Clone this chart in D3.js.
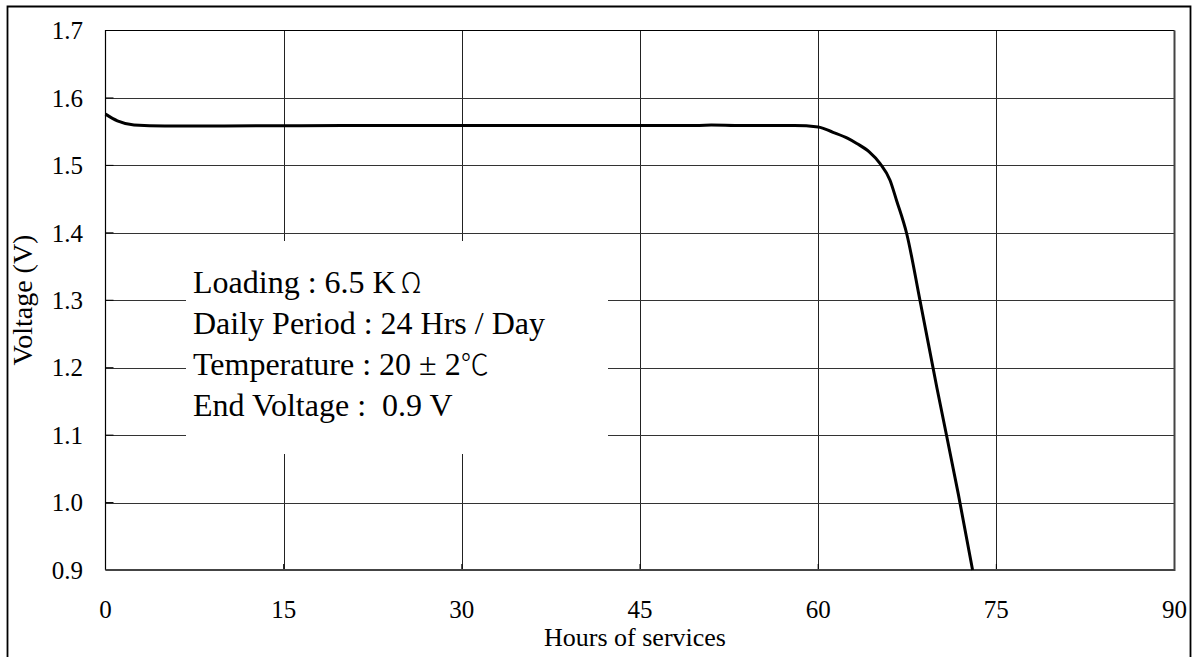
<!DOCTYPE html>
<html>
<head>
<meta charset="utf-8">
<script src="https://cdn.jsdelivr.net/npm/d3@7"></script>
<style>
  body { margin: 0; background: #fff; }
  svg { display: block; font-family: "Liberation Serif", "Times New Roman", serif; }
  .note { white-space: pre; }
  .cjk { font-family: "Noto Sans CJK JP", "Noto Sans CJK SC", serif; font-weight: 300; }
</style>
</head>
<body>
<svg id="chart" width="1192" height="657"></svg>
<script>
// discharge curve
var hours = [0, 1, 2.4, 5, 10, 20, 30, 40, 45, 50, 51, 53, 55, 58, 60, 61.25, 62.5, 63.25, 64.3, 65.2, 66.05, 66.6, 67.45, 68.57, 70, 71.8, 73];
var volts = [1.576, 1.566, 1.560, 1.5585, 1.5585, 1.559, 1.559, 1.559, 1.559, 1.5593, 1.5598, 1.5592, 1.559, 1.5592, 1.557, 1.549, 1.540, 1.5325, 1.520, 1.503, 1.478, 1.448, 1.399, 1.30, 1.17, 1.0125, 0.9];
var xTicks = [0, 15, 30, 45, 60, 75, 90];
var yTicks = [0.9, 1.0, 1.1, 1.2, 1.3, 1.4, 1.5, 1.6, 1.7];
// each note line: [plain text, cjk symbol]
var notes = [
    ['Loading : 6.5 K', '\u03A9'],
    ['Daily Period : 24 Hrs / Day', ''],
    ['Temperature : 20 \u00B1 2', '\u2103'],
    ['End Voltage :  0.9 V', '']
];

var LEFT = 105.5, RIGHT = 1174.5, TOP = 30.5, BOTTOM = 570;

var svg = d3.select('#chart');
var x = d3.scaleLinear().domain([0, 90]).range([LEFT, RIGHT]);
var y = d3.scaleLinear().domain([0.9, 1.7]).range([BOTTOM, TOP]);

// outer frame (bottom runs off the page)
svg.append('path')
    .attr('d', 'M7.5,700V6.5H1190.5V700')
    .attr('fill', 'none').attr('stroke', '#000').attr('stroke-width', 1.8);

// grid
svg.append('g').selectAll('line').data(xTicks.slice(1, -1)).enter().append('line')
    .attr('x1', function (d) { return Math.round(x(d)) + 0.5; })
    .attr('x2', function (d) { return Math.round(x(d)) + 0.5; })
    .attr('y1', TOP).attr('y2', BOTTOM)
    .attr('stroke', '#222').attr('stroke-width', 1);
svg.append('g').selectAll('line').data(yTicks.slice(1, -1)).enter().append('line')
    .attr('y1', function (d) { return Math.round(y(d)) + 0.5; })
    .attr('y2', function (d) { return Math.round(y(d)) + 0.5; })
    .attr('x1', LEFT).attr('x2', RIGHT)
    .attr('stroke', '#333').attr('stroke-width', 1);

// small ticks on the axes
svg.append('g').selectAll('line').data(xTicks).enter().append('line')
    .attr('x1', function (d) { return x(d); }).attr('x2', function (d) { return x(d); })
    .attr('y1', BOTTOM).attr('y2', BOTTOM - 6)
    .attr('stroke', '#000').attr('stroke-width', 1);
svg.append('g').selectAll('line').data(yTicks).enter().append('line')
    .attr('y1', function (d) { return y(d); }).attr('y2', function (d) { return y(d); })
    .attr('x1', LEFT).attr('x2', LEFT + 8)
    .attr('stroke', '#000').attr('stroke-width', 1);

// plot border: top/left thin, right/bottom heavier
svg.append('path').attr('d', 'M' + LEFT + ',' + BOTTOM + 'V' + TOP + 'H' + RIGHT)
    .attr('fill', 'none').attr('stroke', '#000').attr('stroke-width', 1.2);
svg.append('path').attr('d', 'M' + LEFT + ',' + BOTTOM + 'H' + RIGHT + 'V' + TOP)
    .attr('fill', 'none').attr('stroke', '#444').attr('stroke-width', 2);

// white note box hiding the grid
svg.append('rect')
    .attr('x', 186).attr('y', 241).attr('width', 422).attr('height', 213)
    .attr('fill', '#fff');

var noteText = svg.append('g').selectAll('text').data(notes).enter().append('text')
    .attr('class', 'note')
    .attr('x', 193).attr('y', function (d, i) { return 293 + i * 41; })
    .attr('font-size', 32).attr('fill', '#000');
noteText.append('tspan').text(function (d) { return d[0]; });
noteText.append('tspan').attr('class', 'cjk').attr('font-size', 28)
    .attr('dx', function (d) { return d[1] === '\u03A9' ? 5 : 0; })
    .text(function (d) { return d[1]; });

// curve
var pts = hours.map(function (h, i) { return [h, volts[i]]; });
svg.append('path').datum(pts)
    .attr('d', d3.line().x(function (d) { return x(d[0]); }).y(function (d) { return y(d[1]); }).curve(d3.curveMonotoneX))
    .attr('fill', 'none').attr('stroke', '#000').attr('stroke-width', 3);

// tick labels
svg.append('g').selectAll('text').data(yTicks).enter().append('text')
    .attr('x', 83).attr('y', function (d) { return y(d); })
    .attr('dy', '0.35em').attr('text-anchor', 'end')
    .attr('font-size', 25)
    .text(function (d) { return d.toFixed(1); });
svg.append('g').selectAll('text').data(xTicks).enter().append('text')
    .attr('x', function (d) { return x(d); }).attr('y', 618)
    .attr('text-anchor', 'middle')
    .attr('font-size', 25)
    .text(function (d) { return d; });

// axis titles
svg.append('text').attr('x', 635).attr('y', 646)
    .attr('text-anchor', 'middle').attr('font-size', 26)
    .text('Hours of services');
svg.append('text')
    .attr('transform', 'translate(32,300)rotate(-90)')
    .attr('text-anchor', 'middle').attr('font-size', 28)
    .text('Voltage (V)');
</script>
</body>
</html>
